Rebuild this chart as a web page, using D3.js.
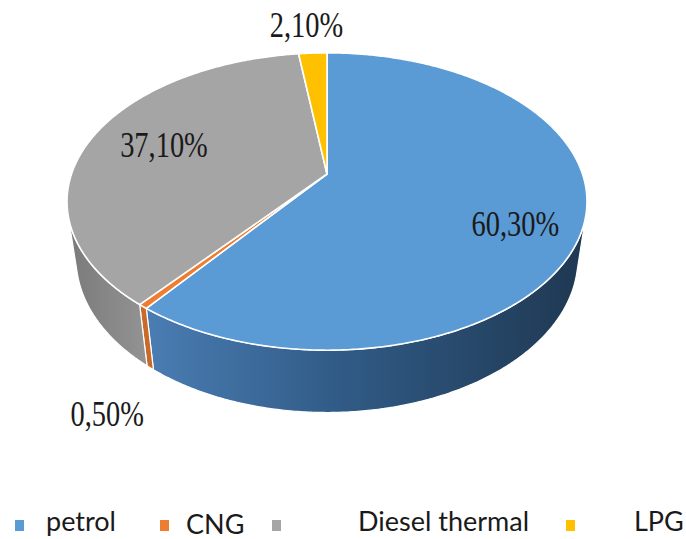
<!DOCTYPE html>
<html><head><meta charset="utf-8">
<script src="https://cdn.jsdelivr.net/npm/d3@7/dist/d3.min.js"></script>
<style>html,body{margin:0;padding:0;background:#fff;}svg{display:block;}</style>
</head><body>
<svg id="chart" width="686" height="539"></svg>
<script>
// ---- data ----
const categories = ["petrol", "CNG", "Diesel thermal", "LPG"];
const values = [60.3, 0.5, 37.1, 2.1];
const valueLabels = ["60,30%", "0,50%", "37,10%", "2,10%"];
const topColors = ["#5B9BD5", "#ED7D31", "#A5A5A5", "#FFC000"];

// ---- layout ----
const W = 686, H = 539;
const cx = 327, cy = 174;
const sinA = 0.562, cosA = Math.sqrt(1 - sinA * sinA);
const Dcam = 4.47, F = 1142, depth = 0.28;
// label anchor in pie space: [radius, height]
const labelAnchor = [[0.75, -0.067], [1.21, -0.335], [0.684, 0.016], [1.61, -0.162]];
const legendSquareX = [15, 160, 272, 566];
const legendTextX = [46, 186, 358, 634];
const legendTextDy = [0, 2.5, 0, 0];

function proj(theta, r, h) {
  const x = r * Math.sin(theta), z = -r * Math.cos(theta);
  const d = Dcam - (h * sinA + z * cosA);
  return [cx + F * x / d, cy - F * (h * cosA - z * sinA) / d];
}
function arcPts(a0, a1, r, h) {
  const n = Math.max(2, Math.ceil(Math.abs(a1 - a0) / (Math.PI / 360)));
  return d3.range(n + 1).map(i => proj(a0 + (a1 - a0) * i / n, r, h));
}

const svg = d3.select("#chart");
const defs = svg.append("defs");
const data = categories.map((c, i) => ({ name: c, value: values[i], label: valueLabels[i], color: topColors[i], i }));
const arcs = d3.pie().sort(null).value(d => d.value).startAngle(0).endAngle(2 * Math.PI)(data);
const line = d3.line().curve(d3.curveLinearClosed);

// visible side range
const vMin = Math.acos(-1 / (Dcam * cosA));
const vMax = 2 * Math.PI - vMin;

// side gradients
const sideGrad = [
  [["0", "#4a7db3"], ["0.45", "#305a85"], ["1", "#1f3852"]],
  [["0", "#c96a2a"], ["1", "#c96a2a"]],
  [["0", "#7a7a7a"], ["1", "#939393"]],
  [["0", "#d9a300"], ["1", "#d9a300"]]
];

const sides = svg.append("g");
arcs.forEach((a, i) => {
  const a0 = Math.max(a.startAngle, vMin), a1 = Math.min(a.endAngle, vMax);
  if (a0 >= a1) return;
  const top = arcPts(a0, a1, 1, 0);
  const bot = arcPts(a1, a0, 1, -depth);
  const pts = top.concat(bot);
  const xs = pts.map(p => p[0]);
  const g = defs.append("linearGradient").attr("id", "sg" + i)
    .attr("gradientUnits", "userSpaceOnUse")
    .attr("x1", d3.min(xs)).attr("x2", d3.max(xs)).attr("y1", 0).attr("y2", 0);
  sideGrad[i].forEach(s => g.append("stop").attr("offset", s[0]).attr("stop-color", s[1]));
  sides.append("path").attr("d", line(pts))
    .attr("fill", `url(#sg${i})`).attr("stroke", "#ffffff").attr("stroke-width", 1.2)
    .attr("stroke-linejoin", "round");
});

const tops = svg.append("g");
arcs.forEach((a, i) => {
  const pts = [proj(0, 0, 0)].concat(arcPts(a.startAngle, a.endAngle, 1, 0));
  tops.append("path").attr("d", line(pts))
    .attr("fill", a.data.color).attr("stroke", "#ffffff").attr("stroke-width", 1.6)
    .attr("stroke-linejoin", "round");
});

// value labels
const lab = svg.append("g");
arcs.forEach((a, i) => {
  const mid = (a.startAngle + a.endAngle) / 2;
  const p = proj(mid, labelAnchor[i][0], labelAnchor[i][1]);
  const t = lab.append("text")
    .attr("x", p[0]).attr("y", p[1] + 12)
    .attr("text-anchor", "middle")
    .attr("font-family", "'Liberation Serif', 'Times New Roman', serif")
    .attr("font-size", 36).attr("fill", "#1a1a1a")
    .text(a.data.label);
  const w = t.node().getComputedTextLength();
  t.attr("textLength", w * 0.79).attr("lengthAdjust", "spacingAndGlyphs");
});

// legend
const leg = svg.append("g");
data.forEach((d, i) => {
  leg.append("rect").attr("x", legendSquareX[i]).attr("y", 520).attr("width", 9).attr("height", 11)
    .attr("fill", d.color);
  leg.append("text").attr("x", legendTextX[i]).attr("y", 531 + legendTextDy[i])
    .attr("font-family", "Lato, 'Open Sans', sans-serif").attr("font-size", 27)
    .attr("fill", "#1a1a1a").text(d.name);
});
</script>
</body></html>
